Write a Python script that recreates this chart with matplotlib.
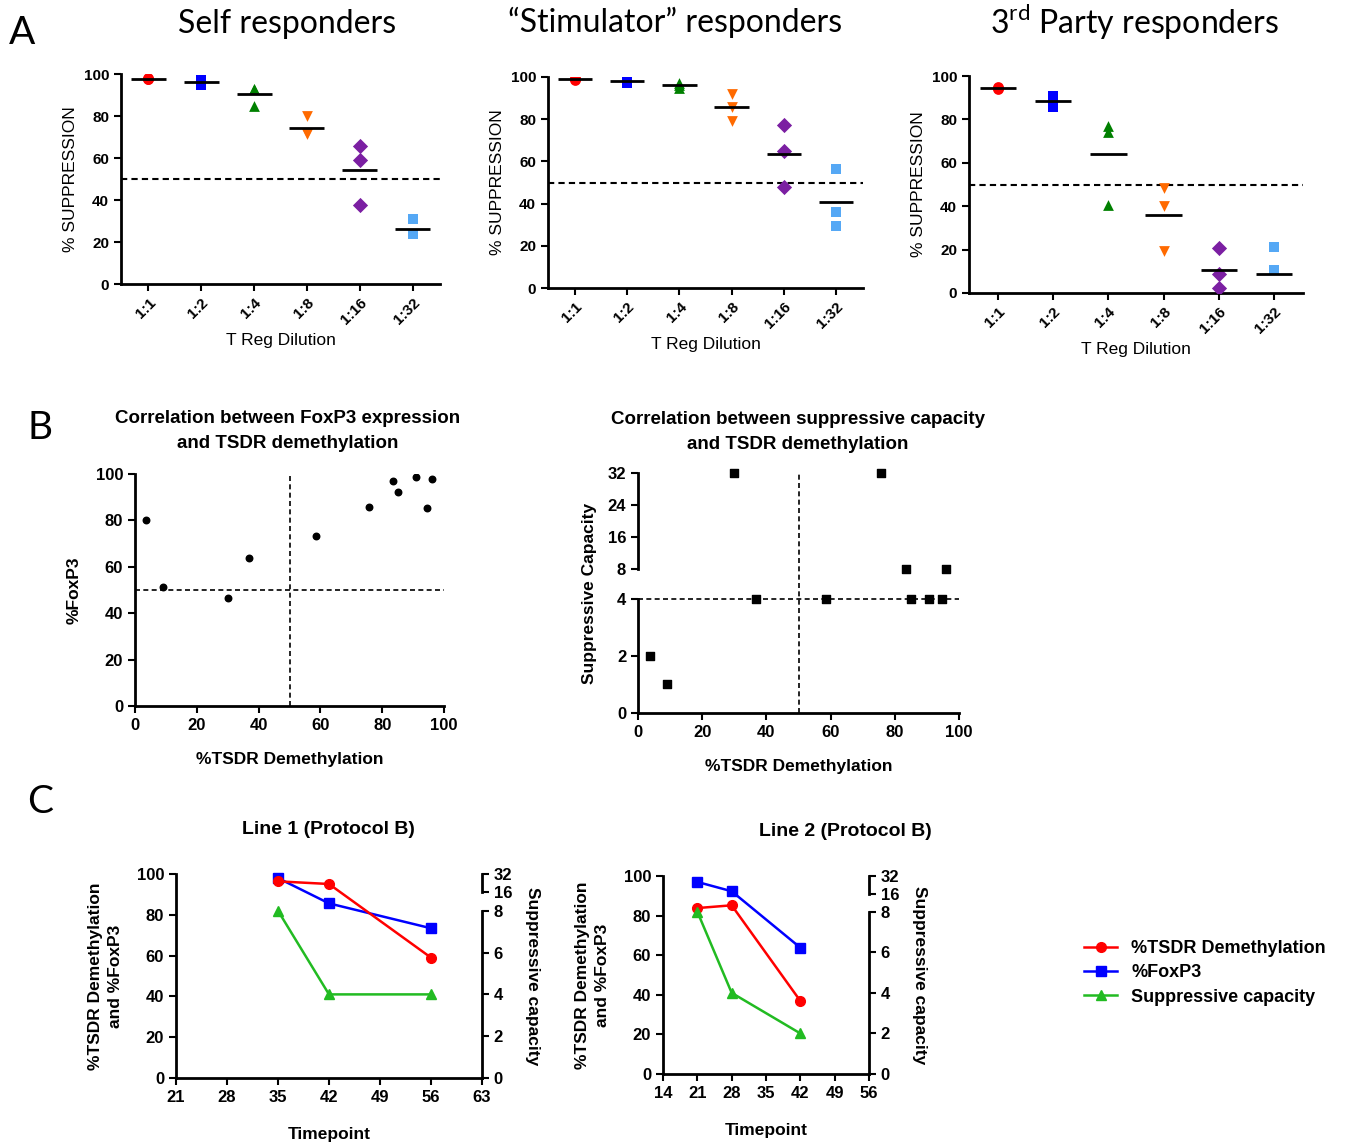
import numpy as np
import matplotlib
matplotlib.use('Agg')
import matplotlib.pyplot as plt

plt.rcParams['font.family'] = ['Liberation Sans', 'DejaVu Sans']
plt.rcParams['mathtext.fontset'] = 'custom'
plt.rcParams['mathtext.rm'] = 'Lato'

# ---- panel A: suppression by Treg dilution
dilutions = ['1:1', '1:2', '1:4', '1:8', '1:16', '1:32']
dil_colors = ['#ff0000', '#0000ff', '#008000', '#ff6a00', '#7b1fa2', '#55a8f5']
dil_markers = ['o', 's', '^', 'v', 'D', 's']

self_resp = [[97.5, 97.5, 98], [97, 96, 95], [93, 93, 85], [80, 72, 71.5],
             [65.7, 58.9, 37.6], [31, 24, 24]]
stim_resp = [[98.5, 99, 99.5], [99, 98, 97], [97, 96, 95], [92, 86, 79],
             [77.3, 64.8, 47.9], [56.6, 36.2, 29.5]]
third_resp = [[94, 95, 94.5], [91, 89, 85.5], [77, 74, 40.5], [48.4, 40.2, 19.2],
              [20.7, 8.9, 2.5], [21, 10.4, -5]]

# ---- panel B: correlations
tsdr = [3.6, 9.1, 30, 36.8, 58.6, 75.6, 83.5, 85.1, 90.8, 94.6, 96.1]
foxp3 = [80.1, 51.4, 46.6, 63.9, 73.2, 85.9, 97.1, 92.2, 98.6, 85.2, 97.8]
supp_cap = [2, 1, 32, 4, 4, 32, 8, 4, 4, 4, 8]

# ---- panel C: time courses
line1_days = [35, 42, 56]
line1_tsdr = [96.4, 95.1, 59]
line1_foxp3 = [98, 85.6, 73.4]
line1_supp = [8, 4, 4]

line2_days = [21, 28, 42]
line2_tsdr = [83.8, 85.2, 36.9]
line2_foxp3 = [97, 92.3, 63.8]
line2_supp = [8, 4, 2]

W, H = 1355, 1145


def rect(l, t, r, b):
    return [l / W, 1 - b / H, (r - l) / W, (b - t) / H]


def style(ax, lw=2):
    for s in ['top', 'right']:
        ax.spines[s].set_visible(False)
    for s in ['left', 'bottom']:
        ax.spines[s].set_linewidth(lw)
    ax.tick_params(direction='out', length=5, width=1.5)


fig = plt.figure(figsize=(W / 100, H / 100), dpi=100)

# ================= A =================
a_boxes = [rect(121, 74, 440, 284), rect(548, 77, 863, 288), rect(969, 76, 1303, 293)]
a_data = [self_resp, stim_resp, third_resp]
for box, data in zip(a_boxes, a_data):
    ax = fig.add_axes(box)
    style(ax)
    for i, vals in enumerate(data):
        ax.scatter([i] * len(vals), vals, s=60, marker=dil_markers[i],
                   color=dil_colors[i], zorder=3, linewidths=0)
        ax.hlines(np.mean(vals), i - 0.33, i + 0.33, color='k', lw=2, zorder=4)
    ax.axhline(50, color='k', ls=(0, (3, 2)), lw=1.5)
    ax.set_ylim(0, 100)
    ax.set_xlim(-0.52, 5.52)
    ax.set_yticks(range(0, 101, 20))
    ax.set_xticks(range(len(dilutions)))
    ax.set_xticklabels(dilutions, rotation=45, ha='right', rotation_mode='anchor')
    for lab in ax.get_xticklabels() + ax.get_yticklabels():
        lab.set_fontweight('bold')
        lab.set_fontsize(11)
    ax.set_ylabel('% SUPPRESSION', fontsize=12.5)
    ax.set_xlabel('T Reg Dilution', fontsize=12.5, labelpad=4)

fig.text(22 / W, 1 - 33 / H, 'A', fontsize=28, family='Lato', va='center', ha='center')
fig.text(287 / W, 1 - 24 / H, 'Self responders', fontsize=23, family='Lato', ha='center', va='center')
fig.text(675 / W, 1 - 22 / H, '\u201cStimulator\u201d responders', fontsize=23, family='Lato',
         ha='center', va='center')
fig.text(1135 / W, 1 - 22 / H, '3$^{\\rm rd}$ Party responders', fontsize=23, family='Lato',
         ha='center', va='center')

# ================= B =================
fig.text(40 / W, 1 - 428 / H, 'B', fontsize=28, family='Lato', va='center', ha='center')

axb1 = fig.add_axes(rect(135, 474, 444, 706))
style(axb1)
axb1.scatter(tsdr, foxp3, s=22, color='k', zorder=3)
axb1.axhline(50, color='k', ls=(0, (3, 2)), lw=1.2)
axb1.axvline(50, color='k', ls=(0, (3, 2)), lw=1.2)
axb1.set_xlim(0, 100)
axb1.set_ylim(0, 100)
axb1.set_xticks(range(0, 101, 20))
axb1.set_yticks(range(0, 101, 20))
axb1.tick_params(labelsize=12)
for lab in axb1.get_xticklabels() + axb1.get_yticklabels():
    lab.set_fontweight('bold')
axb1.set_xlabel('%TSDR Demethylation', fontsize=12.5, fontweight='bold', labelpad=14)
axb1.set_ylabel('%FoxP3', fontsize=12.5, fontweight='bold', labelpad=10)
fig.text(288 / W, 1 - 431 / H, 'Correlation between FoxP3 expression\nand TSDR demethylation',
         fontsize=13.5, fontweight='bold', ha='center', va='center', linespacing=1.6)


def b_fwd(v):
    v = np.asarray(v, dtype=float)
    return np.where(v <= 4, v, np.where(v <= 8, 4 + (v - 4) * 0.265, 5.06 + (v - 8) * 0.14))


def b_inv(u):
    u = np.asarray(u, dtype=float)
    return np.where(u <= 4, u, np.where(u <= 5.06, 4 + (u - 4) / 0.265, 8 + (u - 5.06) / 0.14))


axb2 = fig.add_axes(rect(638, 473, 959, 713))
style(axb2)
axb2.set_yscale('function', functions=(b_fwd, b_inv))
axb2.spines['left'].set_visible(False)
ytr = axb2.get_yaxis_transform()
axb2.plot([0, 0], [0, 4], color='k', lw=2, transform=ytr, clip_on=False)
axb2.plot([0, 0], [8, 32], color='k', lw=2, transform=ytr, clip_on=False)
axb2.scatter(tsdr, supp_cap, s=28, marker='s', color='k', zorder=3, clip_on=False)
axb2.axhline(4, color='k', ls=(0, (3, 2)), lw=1.2)
axb2.axvline(50, color='k', ls=(0, (3, 2)), lw=1.2)
axb2.set_xlim(0, 100)
axb2.set_ylim(0, 32)
axb2.set_xticks(range(0, 101, 20))
axb2.set_yticks([0, 2, 4, 8, 16, 24, 32])
axb2.set_yticklabels(['0', '2', '4', '8', '16', '24', '32'])
axb2.minorticks_off()
axb2.tick_params(labelsize=12)
for lab in axb2.get_xticklabels() + axb2.get_yticklabels():
    lab.set_fontweight('bold')
axb2.set_xlabel('%TSDR Demethylation', fontsize=12.5, fontweight='bold', labelpad=14)
axb2.set_ylabel('Suppressive Capacity', fontsize=12.5, fontweight='bold', labelpad=8)
fig.text(798 / W, 1 - 432 / H, 'Correlation between suppressive capacity\nand TSDR demethylation',
         fontsize=13.5, fontweight='bold', ha='center', va='center', linespacing=1.6)

# ================= C =================
fig.text(40 / W, 1 - 802 / H, 'C', fontsize=28, family='Lato', va='center', ha='center')


def c_fwd(v):
    v = np.asarray(v, dtype=float)
    return np.where(v <= 8, v, np.where(v <= 16, 8 + (v - 8) * 0.11, 8.88 + (v - 16) * 0.055))


def c_inv(u):
    u = np.asarray(u, dtype=float)
    return np.where(u <= 8, u, np.where(u <= 8.88, 8 + (u - 8) / 0.11, 16 + (u - 8.88) / 0.055))


c_sets = [
    (rect(176, 874, 482, 1078), line1_days, line1_tsdr, line1_foxp3, line1_supp,
     (21, 63), 'Line 1 (Protocol B)', 328, 829),
    (rect(663, 876, 869, 1074), line2_days, line2_tsdr, line2_foxp3, line2_supp,
     (14, 56), 'Line 2 (Protocol B)', 845, 832),
]
handles = []
for box, days, ts, fx, sc, xl, title, tx, ty in c_sets:
    ax = fig.add_axes(box)
    style(ax)
    h1, = ax.plot(days, ts, color='#ff0000', marker='o', ms=7, lw=1.8, clip_on=False, zorder=4)
    h2, = ax.plot(days, fx, color='#0000ff', marker='s', ms=7, lw=1.8, clip_on=False, zorder=3)
    ax.set_xlim(*xl)
    ax.set_ylim(0, 100)
    ax.set_xticks(range(xl[0], xl[1] + 1, 7))
    ax.set_yticks(range(0, 101, 20))
    ax.tick_params(labelsize=12)
    for lab in ax.get_xticklabels() + ax.get_yticklabels():
        lab.set_fontweight('bold')
    ax.set_xlabel('Timepoint', fontsize=12.5, fontweight='bold', labelpad=16)
    ax.set_ylabel('%TSDR Demethylation\nand %FoxP3', fontsize=12.5, fontweight='bold',
                  labelpad=10, linespacing=1.4)

    ax2 = ax.twinx()
    ax2.set_yscale('function', functions=(c_fwd, c_inv))
    for s in ['top', 'left', 'bottom', 'right']:
        ax2.spines[s].set_visible(False)
    h3, = ax2.plot(days, sc, color='#22bb22', marker='^', ms=7, lw=1.8, clip_on=False, zorder=2)
    ax2.set_ylim(0, 32)
    ytr2 = ax2.get_yaxis_transform()
    ax2.plot([1, 1], [0, 8], color='k', lw=2, transform=ytr2, clip_on=False)
    ax2.plot([1, 1], [16, 32], color='k', lw=2, transform=ytr2, clip_on=False)
    ax2.set_yticks([0, 2, 4, 6, 8, 16, 32])
    ax2.set_yticklabels(['0', '2', '4', '6', '8', '16', '32'])
    ax2.minorticks_off()
    ax2.tick_params(direction='out', length=5, width=1.5, labelsize=12)
    for lab in ax2.get_yticklabels():
        lab.set_fontweight('bold')
    ax2.set_ylabel('Suppressive capacity', fontsize=12.5, fontweight='bold', rotation=-90,
                   labelpad=20)
    fig.text(tx / W, 1 - ty / H, title, fontsize=14, fontweight='bold', ha='center', va='center')
    handles = [h1, h2, h3]

fig.legend(handles, ['%TSDR Demethylation', '%FoxP3', 'Suppressive capacity'],
           loc='upper left', bbox_to_anchor=(1068 / W, 1 - 924 / H), frameon=False,
           prop={'weight': 'bold', 'size': 13}, handlelength=1.8, labelspacing=0.4)

fig.savefig('out.png', dpi=100)
